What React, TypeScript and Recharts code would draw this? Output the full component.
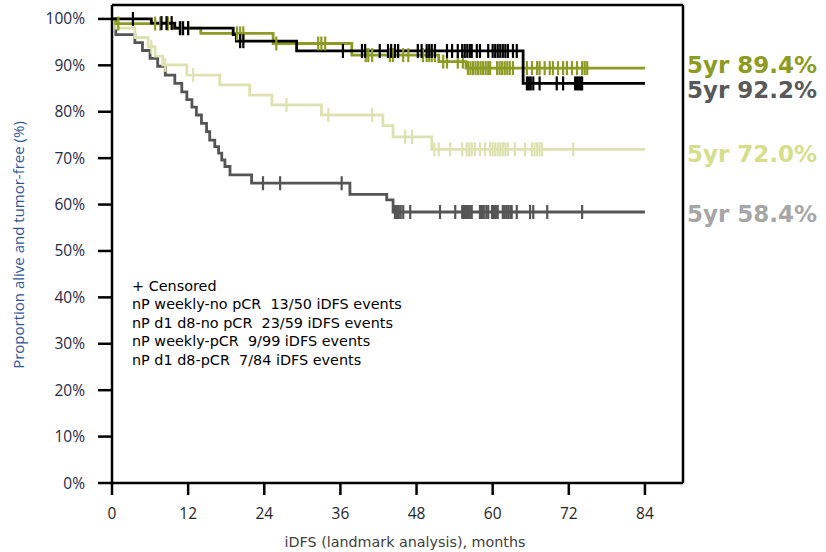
import React from "react";
import { LineChart, Line, XAxis, YAxis, ReferenceLine } from "recharts";

// ---- data (months, % alive and tumor-free) ----
const xTicks = [0, 12, 24, 36, 48, 60, 72, 84];
const yTicks = [0, 10, 20, 30, 40, 50, 60, 70, 80, 90, 100];

// nP d1 d8-pCR (black)
const d1d8pCRTimes = [0, 6.2, 9.9, 19.1, 19.6, 29.1, 64.8];
const d1d8pCRSurv = [100, 99.1, 98.0, 96.6, 95.2, 93.1, 86.1];
const d1d8pCRCensor = [3.3, 7.8, 8.6, 9.4, 10.7, 11.2, 12.0, 20.2, 20.7, 36.4, 39.4, 39.9, 42.2, 43.5, 44.0, 44.6, 45.1, 48.2, 48.8, 49.6, 50.0, 50.4, 50.9, 52.8, 53.6, 54.5, 55.2, 55.6, 56.0, 56.4, 56.7, 57.5, 58.0, 59.3, 60.0, 60.4, 60.8, 61.2, 61.6, 62.0, 62.4, 63.2, 63.8, 65.4, 65.7, 66.0, 66.4, 67.4, 70.1, 71.1, 73.0, 73.3, 73.6, 73.9, 74.1];

// nP weekly-pCR (olive)
const weeklyPCRTimes = [0, 0.6, 9.5, 14.0, 25.4, 37.8, 51.5, 55.8];
const weeklyPCRSurv = [100, 99.0, 98.0, 96.9, 94.7, 92.2, 90.8, 89.4];
const weeklyPCRCensor = [1.0, 6.8, 7.6, 8.8, 11.0, 12.0, 19.7, 20.2, 20.7, 25.9, 32.5, 33.0, 33.6, 40.0, 40.4, 41.0, 43.8, 44.3, 45.9, 46.7, 49.0, 49.6, 50.0, 50.4, 50.9, 52.2, 52.8, 54.5, 55.3, 56.1, 56.5, 56.9, 57.3, 57.7, 58.1, 58.5, 58.9, 59.3, 59.6, 60.7, 61.1, 61.5, 61.9, 62.3, 62.7, 63.2, 65.4, 66.2, 67.0, 67.4, 68.2, 69.0, 69.5, 70.3, 71.1, 71.7, 72.5, 73.3, 74.1, 74.5, 74.9];

// nP weekly-no pCR (light green)
const weeklyNoPCRTimes = [0, 0.6, 3.6, 5.7, 6.8, 8.0, 11.8, 17.0, 21.7, 25.2, 33.0, 42.7, 44.3, 50.4];
const weeklyNoPCRSurv = [100, 98.0, 96.0, 94.0, 92.0, 90.1, 87.9, 85.8, 83.6, 81.5, 79.3, 77.0, 74.6, 71.9];
const weeklyNoPCRCensor = [6.2, 8.4, 12.8, 27.5, 34.1, 41.0, 46.2, 47.3, 50.8, 51.5, 53.3, 55.2, 55.9, 56.3, 56.7, 57.2, 58.0, 58.8, 59.6, 60.0, 60.4, 60.8, 61.2, 61.6, 62.0, 62.4, 63.5, 65.1, 66.2, 66.6, 67.0, 67.4, 67.8, 72.7];

// nP d1 d8-no pCR (dark gray)
const d1d8NoPCRTimes = [0, 0.6, 3.6, 4.8, 6.0, 7.2, 8.4, 9.9, 11.0, 11.8, 12.6, 13.3, 14.1, 14.9, 15.4, 16.2, 16.8, 17.3, 17.8, 18.6, 22.0, 37.5, 43.3, 44.3];
const d1d8NoPCRSurv = [100, 96.6, 94.9, 93.2, 91.5, 89.8, 87.9, 86.1, 84.3, 82.6, 81.0, 79.3, 77.5, 75.7, 73.9, 72.5, 71.1, 69.6, 68.2, 66.4, 64.6, 62.2, 61.0, 58.4];
const d1d8NoPCRCensor = [23.8, 26.5, 36.2, 44.6, 44.9, 45.2, 45.5, 45.9, 47.0, 51.7, 54.1, 55.2, 55.5, 55.8, 56.1, 56.4, 56.7, 58.0, 58.3, 58.6, 59.0, 59.3, 59.9, 60.2, 60.5, 60.8, 61.6, 61.9, 62.2, 62.5, 62.8, 63.0, 63.8, 65.9, 66.4, 68.6, 74.1];

const endTime = 84;

const legendLines = [
  "+ Censored",
  "nP weekly-no pCR  13/50 iDFS events",
  "nP d1 d8-no pCR  23/59 iDFS events",
  "nP weekly-pCR  9/99 iDFS events",
  "nP d1 d8-pCR  7/84 iDFS events",
];

const fiveYearLabels = ["5yr 89.4%", "5yr 92.2%", "5yr 72.0%", "5yr 58.4%"];

// ---- helpers ----
type Pt = { t: number; s: number; c: boolean };

function buildSeries(times: number[], surv: number[], censor: number[]): Pt[] {
  const survAt = (t: number) => {
    let v = surv[0];
    for (let i = 0; i < times.length; i++) if (times[i] <= t) v = surv[i];
    return v;
  };
  const pts: Pt[] = [];
  times.forEach((t, i) => pts.push({ t, s: surv[i], c: false }));
  censor.forEach((t) => pts.push({ t, s: survAt(t), c: true }));
  pts.push({ t: endTime, s: surv[surv.length - 1], c: false });
  pts.sort((a, b) => a.t - b.t);
  return pts;
}

const makeDot = (color: string) => (props: any) => {
  const { cx, cy, payload, index } = props;
  if (!payload || !payload.c || cx == null || cy == null) return <g key={`d${index}`} />;
  return (
    <line
      key={`d${index}`}
      x1={cx}
      x2={cx}
      y1={cy - 7}
      y2={cy + 7}
      stroke={color}
      strokeWidth={2.2}
    />
  );
};

const series = [
  { name: "d1d8-noPCR", color: "#555555", data: buildSeries(d1d8NoPCRTimes, d1d8NoPCRSurv, d1d8NoPCRCensor) },
  { name: "weekly-noPCR", color: "#dde3b0", data: buildSeries(weeklyNoPCRTimes, weeklyNoPCRSurv, weeklyNoPCRCensor) },
  { name: "weekly-PCR", color: "#8c9b21", data: buildSeries(weeklyPCRTimes, weeklyPCRSurv, weeklyPCRCensor) },
  { name: "d1d8-PCR", color: "#000000", data: buildSeries(d1d8pCRTimes, d1d8pCRSurv, d1d8pCRCensor) },
];

const labelColors = ["#8c9b21", "#595959", "#d5de8a", "#a6a6a6"];
const labelCenters = [64.5, 89.5, 154, 214];

export default function App() {
  const font = "'Open Sans', sans-serif";
  const textFont = "'DejaVu Sans', sans-serif";
  return (
    <div style={{ position: "absolute", left: 0, top: 0, width: 826, height: 552, background: "#fff", fontFamily: font }}>
      <LineChart
        width={826}
        height={552}
        margin={{ top: 5, right: 143, bottom: 29, left: 52 }}
      >
        <XAxis
          type="number"
          dataKey="t"
          domain={[0, 90]}
          ticks={xTicks}
          allowDataOverflow
          height={40}
          tickSize={12}
          tickMargin={13}
          axisLine={{ stroke: "#000", strokeWidth: 2.5 }}
          tickLine={{ stroke: "#000", strokeWidth: 2.5 }}
          tick={{ fill: "#262626", fontSize: 15.5, fontFamily: font }}
        />
        <YAxis
          type="number"
          dataKey="s"
          domain={[0, 103]}
          ticks={yTicks}
          allowDataOverflow
          width={60}
          tickSize={14}
          tickMargin={13}
          tickFormatter={(v: number) => `${v}%`}
          axisLine={{ stroke: "#000", strokeWidth: 2.5 }}
          tickLine={{ stroke: "#000", strokeWidth: 2.5 }}
          tick={{ fill: "#1f2a44", fontSize: 15.5, fontFamily: font }}
        />
        <ReferenceLine y={103} stroke="#000" strokeWidth={2.5} />
        <ReferenceLine x={90} stroke="#000" strokeWidth={2.5} />
        {series.map((s) => (
          <Line
            key={s.name}
            data={s.data}
            dataKey="s"
            type="stepAfter"
            stroke={s.color}
            strokeWidth={2.8}
            dot={makeDot(s.color)}
            activeDot={false}
            isAnimationActive={false}
          />
        ))}
      </LineChart>

      {/* y-axis title */}
      <div
        style={{
          position: "absolute",
          left: 18,
          top: 245,
          transform: "translate(-50%, -50%) rotate(-90deg)",
          whiteSpace: "nowrap",
          fontSize: 15,
          lineHeight: "18px",
          color: "#2f5597",
        }}
      >
        Proportion alive and tumor-free (%)
      </div>

      {/* x-axis title */}
      <div
        style={{
          position: "absolute",
          left: 405,
          top: 542,
          transform: "translate(-50%, -50%)",
          whiteSpace: "nowrap",
          fontFamily: textFont,
          fontSize: 14.3,
          lineHeight: "17px",
          color: "#404040",
        }}
      >
        iDFS (landmark analysis), months
      </div>

      {/* legend text */}
      <div
        style={{
          position: "absolute",
          left: 132,
          top: 276.5,
          fontFamily: textFont,
          fontSize: 14.4,
          lineHeight: "18.6px",
          color: "#000",
        }}
      >
        {legendLines.map((l, i) => (
          <div key={i} style={{ whiteSpace: "pre", height: 18.6 }}>{l}</div>
        ))}
      </div>

      {/* 5-year labels */}
      {fiveYearLabels.map((l, i) => (
        <div
          key={l}
          style={{
            position: "absolute",
            left: 687,
            top: labelCenters[i] - 12,
            fontFamily: textFont,
            fontSize: 23,
            fontWeight: 700,
            lineHeight: "24px",
            height: 24,
            color: labelColors[i],
            whiteSpace: "nowrap",
          }}
        >
          {l}
        </div>
      ))}
    </div>
  );
}
